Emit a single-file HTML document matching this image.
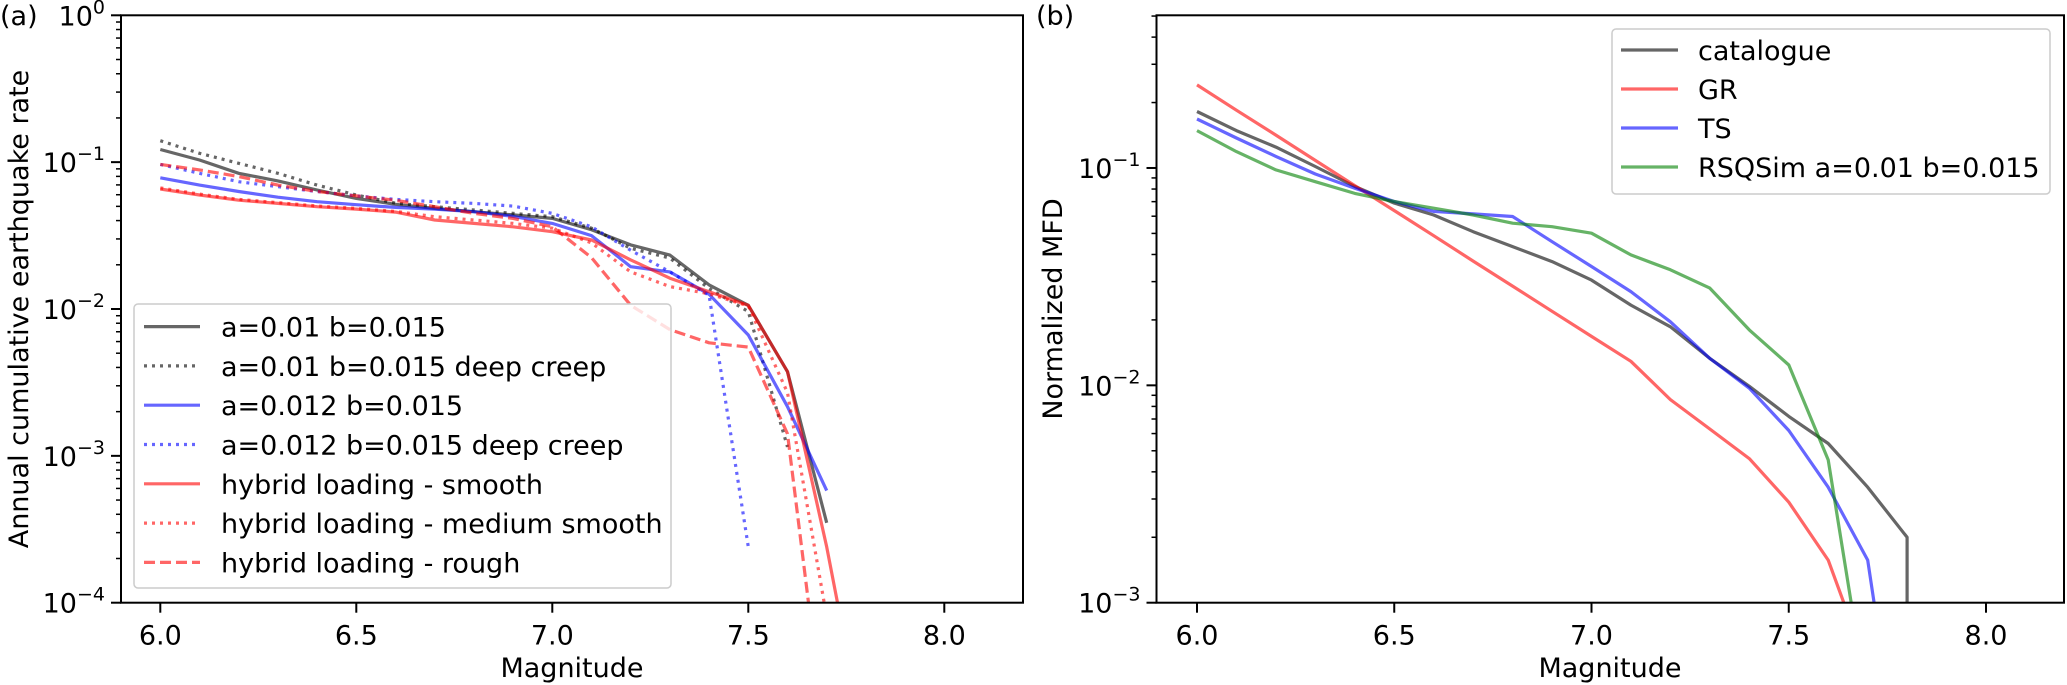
<!DOCTYPE html>
<html><head><meta charset="utf-8"><style>
html,body{margin:0;padding:0;background:#fff;overflow:hidden;width:2067px;height:685px;}
svg{display:block;font-family:"DejaVu Sans","Liberation Sans",sans-serif;}
</style></head><body>
<svg id="fig" width="2067" height="685" viewBox="0 0 2067 685" xmlns="http://www.w3.org/2000/svg">
<text x="0" y="25" font-size="27">(a)</text>
<text x="1036" y="25" font-size="27">(b)</text>
<text transform="translate(28,309) rotate(-90)" text-anchor="middle" font-size="27">Annual cumulative earthquake rate</text>
<text transform="translate(1062,309) rotate(-90)" text-anchor="middle" font-size="27">Normalized MFD</text>
<text x="572" y="677" text-anchor="middle" font-size="27">Magnitude</text>
<text x="1610" y="677" text-anchor="middle" font-size="27">Magnitude</text>
<g id="ga"></g><g id="gb"></g>
</svg>
<script>
// ---- Panel (a) data ----
const magsA = [6.0,6.1,6.2,6.3,6.4,6.5,6.6,6.7,6.8,6.9,7.0,7.1,7.2,7.3,7.4,7.5,7.6,7.7,7.8];
const a01 = [0.122,0.1035,0.084,0.0745,0.0646,0.0566,0.0516,0.0484,0.046,0.0437,0.0414,0.0347,0.0273,0.0233,0.0146,0.0106,0.00374,0.00035];
const a01Deep = [0.14,0.1148,0.0982,0.0839,0.0698,0.0597,0.0525,0.0497,0.0472,0.0448,0.0425,0.0355,0.0259,0.0222,0.0138,0.0096,0.00115];
const a012 = [0.0783,0.0698,0.0631,0.0577,0.0538,0.0513,0.0492,0.0479,0.046,0.0427,0.0383,0.0316,0.0194,0.0179,0.0126,0.00665,0.00216,0.00058];
const a012Deep = [0.0966,0.0839,0.0736,0.0681,0.0631,0.0589,0.0558,0.0538,0.0524,0.0502,0.0448,0.0363,0.0251,0.0179,0.0124,0.00024];
const smooth = [0.0656,0.0597,0.0551,0.0524,0.0497,0.0479,0.0457,0.0404,0.0383,0.0363,0.0336,0.0295,0.0216,0.0162,0.0131,0.0106,0.00374,0.00024,0.00001];
const medSmooth = [0.0668,0.0606,0.0558,0.053,0.0503,0.0484,0.0462,0.0425,0.0404,0.0383,0.0355,0.0282,0.0179,0.0142,0.0127,0.0105,0.00269,0.00008];
const rough = [0.0966,0.0885,0.0798,0.0698,0.0631,0.0589,0.055,0.0497,0.0448,0.0414,0.0363,0.0224,0.0106,0.00724,0.00589,0.0055,0.00141,0.00001];
const legendA = ["a=0.01 b=0.015","a=0.01 b=0.015 deep creep","a=0.012 b=0.015","a=0.012 b=0.015 deep creep","hybrid loading - smooth","hybrid loading - medium smooth","hybrid loading - rough"];
const xTicks = [6.0,6.5,7.0,7.5,8.0];
const xTickLabels = ["6.0","6.5","7.0","7.5","8.0"];
// ---- Panel (b) data ----
const magsB = [6.0,6.1,6.2,6.3,6.4,6.5,6.6,6.7,6.8,6.9,7.0,7.1,7.2,7.3,7.4,7.5,7.6,7.7,7.8,7.8];
const catalogue = [0.182,0.1486,0.1247,0.1016,0.0822,0.0689,0.0608,0.0509,0.0435,0.0371,0.0305,0.0234,0.0186,0.0133,0.0099,0.0072,0.0054,0.0034,0.0020,0.00001];
const gr = [0.241,0.1845,0.1416,0.1084,0.083,0.0637,0.0488,0.0373,0.0286,0.0219,0.0168,0.0129,0.0086,0.0063,0.0046,0.0029,0.00157,0.0005];
const ts = [0.168,0.1374,0.113,0.0938,0.0807,0.0701,0.0631,0.0615,0.0598,0.0458,0.0352,0.027,0.0196,0.0133,0.0097,0.0062,0.0034,0.00157,0.0001];
const rsqsim = [0.1486,0.1189,0.098,0.0865,0.0764,0.0701,0.0653,0.0608,0.0557,0.0537,0.0501,0.0398,0.034,0.028,0.018,0.0124,0.00454,0.00034];
const legendB = ["catalogue","GR","TS","RSQSim a=0.01 b=0.015"];
const yTicksA = [0,-1,-2,-3,-4];
const yTicksB = [-1,-2,-3];

const NS="http://www.w3.org/2000/svg";
function mk(parent,tag,attrs){const e=document.createElementNS(NS,tag);for(const k in attrs)e.setAttribute(k,attrs[k]);parent.appendChild(e);return e;}

const PA={l:121,r:1023,t:15.3,b:602.7,x0:6.0,px:392,ox:160.3,ymax:0,ymin:-4};
const PB={l:1156.5,r:2064,t:15.3,b:602.7,x0:6.0,px:394.5,ox:1197,ymax:Math.log10(0.504),ymin:-3};
function sx(P,m){return P.ox+(m-P.x0)*P.px;}
function sy(P,v){const lv=Math.log10(v);return P.b-(lv-P.ymin)/(P.ymax-P.ymin)*(P.b-P.t);}

function drawAxes(g,P,yt,name){
  xTicks.forEach((t,i)=>{
    const x=sx(P,t);
    const tk=mk(g,'line',{x1:x,x2:x,y1:P.b,y2:P.b+10,stroke:'#000','stroke-width':2});
    
    
    const tl=mk(g,'text',{x:x,y:P.b+42,'text-anchor':'middle','font-size':27});
    tl.textContent=xTickLabels[i];
    
    
  });
  for(let d=P.ymin; d<=Math.ceil(P.ymax); d++){
    for(let k=1;k<10;k++){
      const lv=d+Math.log10(k);
      if(lv>P.ymax+1e-9||lv<P.ymin-1e-9)continue;
      const y=sy(P,Math.pow(10,lv));
      const len=k===1?10:5;
      const tk=mk(g,'line',{x1:P.l-len,x2:P.l,y1:y,y2:y,stroke:'#000','stroke-width':k===1?2:1.5});
      
      
    }
  }
  yt.forEach(e=>{
    const y=sy(P,Math.pow(10,e));
    const tl=mk(g,'text',{x:P.l-16,y:y+10,'text-anchor':'end','font-size':27});
    tl.textContent='10';
    const sp=mk(tl,'tspan',{dy:-12,'font-size':19});
    sp.textContent=e===0?'0':'\u2212'+(-e);
    
    
  });
}
function drawSeries(g,P,mags,vals,color,dash,name){
  const pts=[];
  for(let i=0;i<vals.length;i++){
    const x=sx(P,mags[i]), y=sy(P,vals[i]);
    if(y>P.b){
      if(i>0){
        const px=sx(P,mags[i-1]), py=sy(P,vals[i-1]);
        const f=(P.b-py)/(y-py);
        pts.push([px+(x-px)*f,P.b]);
      }
      break;
    }
    pts.push([x,y]);
  }
  const a={points:pts.map(p=>p[0].toFixed(1)+','+p[1].toFixed(1)).join(' '),fill:'none',stroke:color,'stroke-opacity':0.6,'stroke-width':3.2,'stroke-linejoin':'round'};
  if(dash)a['stroke-dasharray']=dash;
  const pl=mk(g,'polyline',a);
  
  
}
function frame(g,P,name){
  const r=mk(g,'rect',{x:P.l,y:P.t,width:P.r-P.l,height:P.b-P.t,fill:'none',stroke:'#000','stroke-width':2});
  
  
}
function legend(g,box,labels,colors,dashes,name){
  const r=mk(g,'rect',{x:box.x,y:box.y,width:box.w,height:box.h,rx:4,fill:'#fff','fill-opacity':0.8,stroke:'#ccc','stroke-width':1.5});
  
  
  labels.forEach((lab,i)=>{
    const y=box.y0+i*box.dy;
    const a={x1:box.lx1,x2:box.lx2,y1:y,y2:y,stroke:colors[i],'stroke-opacity':0.6,'stroke-width':3.2};
    if(dashes[i])a['stroke-dasharray']=dashes[i];
    const ln=mk(g,'line',a);
    
    
    const t=mk(g,'text',{x:box.tx,y:y+10,'font-size':27});
    t.textContent=lab;
    
    
  });
}

const ga=document.getElementById('ga');
const K='#000',R='#ff0000',B='#0000ff',G='#008000';
drawSeries(ga,PA,magsA,a01,K,null,'series-a01');
drawSeries(ga,PA,magsA,a01Deep,K,'3,5','series-a01-deep');
drawSeries(ga,PA,magsA,a012,B,null,'series-a012');
drawSeries(ga,PA,magsA,a012Deep,B,'3,5','series-a012-deep');
drawSeries(ga,PA,magsA,smooth,R,null,'series-smooth');
drawSeries(ga,PA,magsA,medSmooth,R,'3,5','series-medium-smooth');
drawSeries(ga,PA,magsA,rough,R,'11,5','series-rough');
drawAxes(ga,PA,yTicksA,'a');
frame(ga,PA,'a');
legend(ga,{x:134,y:304,w:537,h:284,y0:326.6,dy:39.3,lx1:144,lx2:200,tx:221},legendA,[K,K,B,B,R,R,R],[null,'3,5',null,'3,5',null,'3,5','11,5'],'a');

const gb=document.getElementById('gb');
drawSeries(gb,PB,magsB,catalogue,K,null,'series-catalogue');
drawSeries(gb,PB,magsB,gr,R,null,'series-gr');
drawSeries(gb,PB,magsB,ts,B,null,'series-ts');
drawSeries(gb,PB,magsB,rsqsim,G,null,'series-rsqsim');
drawAxes(gb,PB,yTicksB,'b');
frame(gb,PB,'b');
legend(gb,{x:1612,y:29,w:438,h:165,y0:50,dy:39,lx1:1621,lx2:1678,tx:1698},legendB,[K,R,B,G],[null,null,null,null],'b');
</script>
</body></html>
